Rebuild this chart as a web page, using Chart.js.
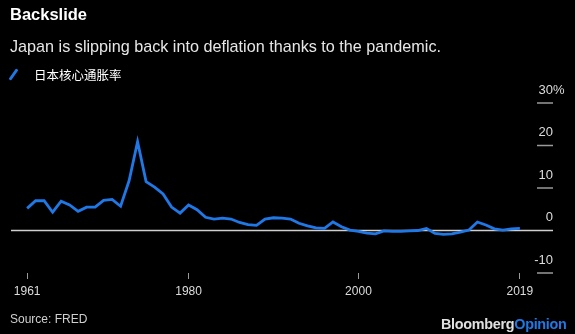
<!DOCTYPE html>
<html>
<head>
<meta charset="utf-8">
<script src="https://cdn.jsdelivr.net/npm/chart.js@4"></script>
<style>
  html, body { margin: 0; padding: 0; background: #000; }
  #wrap { position: relative; width: 575px; height: 334px; background: #000; overflow: hidden;
          font-family: "Liberation Sans", Arial, sans-serif; }
  #chart { position: absolute; left: 0; top: 0; }
  .title { position: absolute; left: 10px; top: 5px; color: #fff; font-weight: bold; font-size: 16.5px; }
  .subtitle { position: absolute; left: 10px; top: 37px; color: #e6e6e6; font-size: 16.2px; }
  .legend { position: absolute; left: 10px; top: 65px; color: #fff; font-size: 12.5px;
            font-family: "Noto Sans CJK SC", sans-serif; }
  .legend .swatch { position: absolute; left: 2px; top: 3px; width: 3px; height: 13px; background: #1f78e6;
                    transform: rotate(35deg); border-radius: 1px; }
  .legend .label { position: absolute; left: 24px; top: 0; white-space: nowrap; }
  .source { position: absolute; left: 10px; top: 312px; color: #cfcfcf; font-size: 12px; }
  .brand { position: absolute; left: 441px; top: 316px; font-size: 14.4px; font-weight: bold; color: #e0e0e0;
           letter-spacing: -0.3px; }
  .brand span { color: #1f78e6; }
</style>
</head>
<body>
<div id="wrap">
  <canvas id="chart" width="575" height="334"></canvas>
  <div class="title">Backslide</div>
  <div class="subtitle">Japan is slipping back into deflation thanks to the pandemic.</div>
  <div class="legend"><div class="swatch"></div><div class="label">日本核心通胀率</div></div>
  <div class="source">Source: FRED</div>
  <div class="brand">Bloomberg<span>Opinion</span></div>
</div>
<script>
// annual core CPI inflation, %, 1961-2019
const inflation = [
    5.2, 7.0, 7.0, 4.3, 6.9, 6.0, 4.5, 5.5, 5.5, 7.1,
    7.3, 5.7, 11.7, 20.9, 11.5, 10.2, 8.6, 5.5, 4.1, 6.0,
    4.9, 3.1, 2.7, 2.9, 2.7, 1.9, 1.4, 1.2, 2.7, 3.0,
    2.9, 2.7, 1.7, 1.1, 0.6, 0.5, 2.0, 0.9, 0.1, -0.2,
    -0.6, -0.8, -0.1, -0.2, -0.2, -0.1, 0.0, 0.5, -0.7, -0.9,
    -0.8, -0.4, 0.1, 2.0, 1.3, 0.4, 0.1, 0.4, 0.5
];
const firstYear = 1961;
const years = inflation.map((_, i) => firstYear + i);
const xTickYears = [1961, 1980, 2000, 2019];
const yTickValues = [30, 20, 10, 0, -10];

const lineBlue = '#1f78e6';

// right-hand value labels with short tick marks, plus the zero line
const yAxisPlugin = {
    id: 'yAxisMarks',
    beforeDatasetsDraw(chart) {
        const { ctx, chartArea, scales } = chart;
        const y = scales.y;
        ctx.save();
        const zy = y.getPixelForValue(0);
        ctx.strokeStyle = '#cfcfcf';
        ctx.lineWidth = 1.5;
        ctx.beginPath();
        ctx.moveTo(chartArea.left, zy);
        ctx.lineTo(chartArea.right, zy);
        ctx.stroke();

        ctx.font = '13px "Liberation Sans", Arial, sans-serif';
        ctx.textBaseline = 'middle';
        yTickValues.forEach(v => {
            const py = y.getPixelForValue(v);
            if (v !== 0) {
                ctx.strokeStyle = '#9a9a9a';
                ctx.beginPath();
                ctx.moveTo(chartArea.right - 16, py);
                ctx.lineTo(chartArea.right, py);
                ctx.stroke();
            }
            ctx.fillStyle = '#dcdcdc';
            ctx.textAlign = 'right';
            ctx.fillText(String(v), chartArea.right, py - 13);
            if (v === 30) {
                ctx.textAlign = 'left';
                ctx.fillText('%', chartArea.right, py - 13);
            }
        });
        ctx.restore();
    }
};

new Chart(document.getElementById('chart'), {
    type: 'line',
    data: {
        datasets: [{
            label: '日本核心通胀率',
            data: years.map((yr, i) => ({ x: yr, y: inflation[i] })),
            borderColor: lineBlue,
            borderWidth: 2.8,
            pointRadius: 0,
            tension: 0,
            fill: false,
        }],
    },
    options: {
        responsive: false,
        animation: false,
        layout: { padding: { left: 11, right: 22, top: 103, bottom: 31 } },
        plugins: {
            legend: { display: false },
            tooltip: { enabled: false },
        },
        scales: {
            x: {
                type: 'linear',
                min: 1959.1,
                max: 2022.9,
                afterBuildTicks: (scale) => { scale.ticks = xTickYears.map(v => ({ value: v })); },
                afterFit: (scale) => { scale.height = 30; },
                grid: { drawOnChartArea: false, drawTicks: true, tickLength: 6, color: '#9a9a9a', lineWidth: 1 },
                border: { display: false },
                ticks: {
                    color: '#dcdcdc',
                    font: { size: 12, family: '"Liberation Sans", Arial, sans-serif' },
                    padding: 5,
                    maxRotation: 0,
                    callback: (v) => String(v),
                },
            },
            y: {
                display: false,
                min: -10,
                max: 30,
            },
        },
    },
    plugins: [yAxisPlugin],
});
</script>
</body>
</html>
